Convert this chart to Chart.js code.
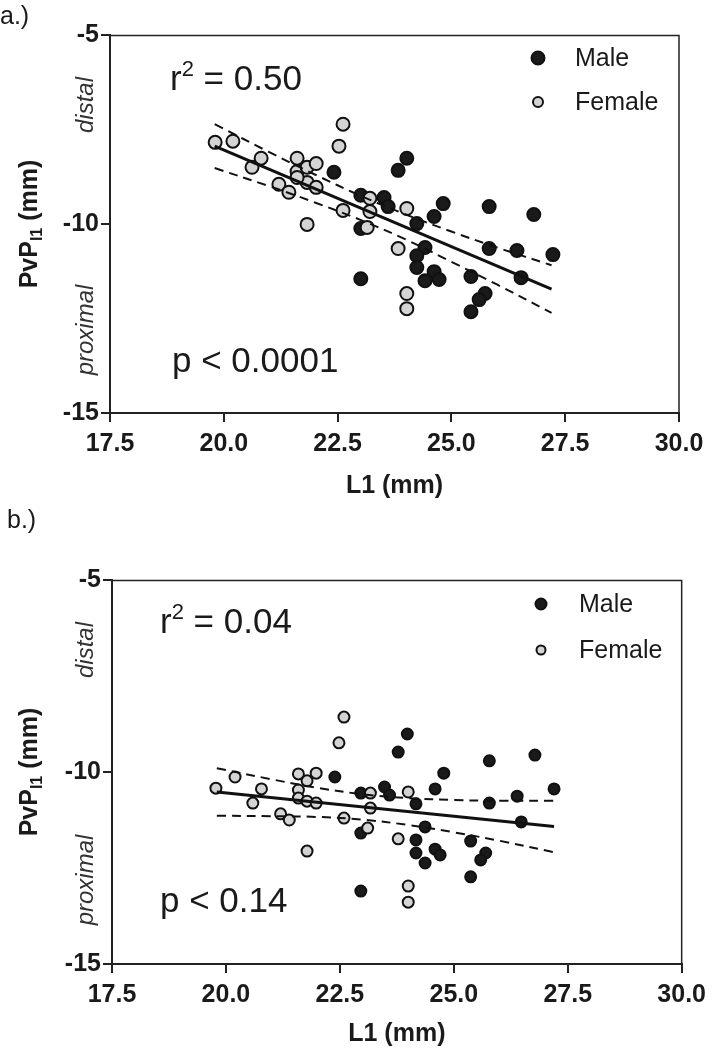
<!DOCTYPE html>
<html><head><meta charset="utf-8">
<script src="https://cdn.jsdelivr.net/npm/chart.js@4.4.1/dist/chart.umd.min.js"></script>
<style>
html,body{margin:0;padding:0;background:#fff;}
.wrap{position:absolute;left:0;width:713px;}
#w1{top:0;height:520px}#w2{top:495px;height:555px}
canvas{display:block}
</style></head><body>
<div class="wrap" id="w1"><canvas id="c1" width="713" height="520"></canvas></div>
<div class="wrap" id="w2"><canvas id="c2" width="713" height="555"></canvas></div>
<script>
// ---------- data ----------
const xTicks = [17.5, 20.0, 22.5, 25.0, 27.5, 30.0];
const yTicks = [-15, -10, -5];

// panel a
const femaleX_a = [19.81,20.20,20.62,20.82,21.21,21.43,21.61,21.61,21.83,22.03,21.83,22.03,21.61,21.83,22.62,22.53,22.62,23.21,23.21,23.15,24.02,23.83,24.02,24.02];
const femaleY_a = [-7.84,-7.81,-8.50,-8.26,-8.95,-9.16,-8.26,-8.61,-8.50,-8.40,-8.90,-9.03,-8.77,-10.01,-7.36,-7.94,-9.64,-9.32,-9.67,-10.09,-9.59,-10.65,-11.84,-12.24];
const maleX_a = [22.42,23.01,23.01,23.01,23.52,23.61,24.02,23.83,24.82,24.62,24.24,25.83,26.81,24.42,24.24,24.24,24.62,24.42,24.73,25.83,26.44,27.23,25.43,26.53,25.74,25.61,25.43];
const maleY_a = [-8.63,-9.24,-10.12,-11.45,-9.30,-9.54,-8.26,-8.58,-9.46,-9.80,-9.99,-9.54,-9.75,-10.62,-10.84,-11.15,-11.26,-11.50,-11.47,-10.65,-10.70,-10.81,-11.39,-11.42,-11.84,-12.00,-12.32];
const fitX_a = [19.8, 27.2];
const fitY_a = [-7.94, -11.72];
const bandX_a = [19.8, 21, 22, 23, 24, 25, 26, 27.2];
const upperY_a = [-7.36,-8.10,-8.69,-9.25,-9.75,-10.20,-10.62,-11.09];
const lowerY_a = [-8.52,-9.00,-9.43,-9.89,-10.41,-11.00,-11.60,-12.35];

// panel b
const femaleX_b = [19.78,20.20,20.78,20.59,21.20,21.39,21.59,21.78,21.98,21.59,21.59,21.78,21.98,21.78,22.59,22.48,22.59,23.17,23.17,23.11,24.00,23.78,24.00,24.00];
const femaleY_b = [-10.42,-10.13,-10.44,-10.81,-11.09,-11.25,-10.05,-10.23,-10.03,-10.47,-10.68,-10.76,-10.81,-12.06,-8.57,-9.24,-11.20,-10.55,-10.94,-11.46,-10.52,-11.74,-12.97,-13.39];
const maleX_b = [22.39,22.96,22.96,22.96,23.48,23.59,23.98,23.78,24.78,24.59,24.17,25.78,26.78,24.37,24.17,24.17,24.59,24.70,24.37,25.78,26.39,27.20,25.37,26.48,25.70,25.59,25.37];
const maleY_b = [-10.13,-10.55,-11.59,-13.10,-10.39,-10.60,-9.01,-9.48,-10.03,-10.44,-10.83,-9.71,-9.56,-11.43,-11.77,-12.11,-12.01,-12.16,-12.37,-10.81,-10.63,-10.44,-11.80,-11.30,-12.11,-12.29,-12.73];
const fitX_b = [19.8, 27.2];
const fitY_b = [-10.52, -11.42];
const bandX_b = [19.8, 21, 22, 23, 24, 25, 26, 27.2];
const upperY_b = [-9.90,-10.19,-10.41,-10.58,-10.68,-10.73,-10.75,-10.75];
const lowerY_b = [-11.14,-11.15,-11.17,-11.24,-11.38,-11.57,-11.79,-12.09];

const seriesNames = ['Male', 'Female'];
const panelLabels = ['a.)', 'b.)'];
const r2Texts = ['0.50', '0.04'];
const pTexts = ['p < 0.0001', 'p < 0.14'];
const xTitle = 'L1 (mm)';

// ---------- helpers ----------
const FONT = "'Liberation Sans', Arial, Helvetica, sans-serif";
const INK = '#1a1a1a';
const zip = (xs, ys) => xs.map((x, i) => ({x, y: ys[i]}));

function makeChart(id, d, L) {
  const annot = {
    id: 'annot',
    afterDraw(chart) {
      const ctx = chart.ctx, a = chart.chartArea;
      ctx.save();
      // top & right frame
      ctx.strokeStyle = '#222'; ctx.lineWidth = 1.5;
      ctx.beginPath();
      ctx.moveTo(a.left, a.top + 0.5); ctx.lineTo(a.right, a.top + 0.5); ctx.lineTo(a.right, a.bottom);
      ctx.stroke();
      ctx.fillStyle = INK;
      // panel label
      ctx.font = '25px ' + FONT; ctx.textBaseline = 'alphabetic'; ctx.textAlign = 'left';
      ctx.fillText(d.panel, L.panelX, L.panelY);
      // r^2
      ctx.font = '35px ' + FONT;
      let x = L.rX;
      ctx.fillText('r', x, a.top + L.rDy); x += ctx.measureText('r').width;
      ctx.font = '22px ' + FONT;
      ctx.fillText('2', x, a.top + L.rDy - 14); x += ctx.measureText('2').width;
      ctx.font = '35px ' + FONT;
      ctx.fillText(' = ' + d.r2, x, a.top + L.rDy);
      // p
      ctx.fillText(d.p, L.pX, a.top + L.pDy);
      // legend
      const lg = [[seriesNames[0], INK, L.rM], [seriesNames[1], '#d4d4d4', L.rF]];
      lg.forEach((it, i) => {
        const cy = L.legY + i * L.legGap;
        ctx.beginPath(); ctx.arc(L.legMX, cy, it[2], 0, Math.PI * 2);
        ctx.fillStyle = it[1]; ctx.fill();
        ctx.lineWidth = 2; ctx.strokeStyle = '#111'; ctx.stroke();
        ctx.fillStyle = INK; ctx.font = '25px ' + FONT; ctx.textBaseline = 'middle';
        ctx.fillText(it[0], L.legTX, cy + 1);
      });
      // y title with subscript (rotated)
      const cy = (a.top + a.bottom) / 2;
      ctx.save();
      ctx.translate(L.yTitleX, cy); ctx.rotate(-Math.PI / 2);
      ctx.textBaseline = 'alphabetic'; ctx.textAlign = 'left';
      const f1 = 'bold 25px ' + FONT, f2 = 'bold 16px ' + FONT;
      ctx.font = f1; const w1 = ctx.measureText('PvP').width;
      ctx.font = f2; const w2 = ctx.measureText('I1').width;
      ctx.font = f1; const w3 = ctx.measureText(' (mm)').width;
      let sx = -(w1 + w2 + w3) / 2;
      ctx.fillStyle = INK;
      ctx.font = f1; ctx.fillText('PvP', sx, 0); sx += w1;
      ctx.font = f2; ctx.fillText('I1', sx, 5); sx += w2;
      ctx.font = f1; ctx.fillText(' (mm)', sx, 0);
      // distal / proximal
      ctx.font = 'italic 24px ' + FONT; ctx.textAlign = 'center'; ctx.fillStyle = '#333';
      ctx.fillText('distal', cy - (a.top + L.distalDy), L.dpX - L.yTitleX);
      ctx.fillText('proximal', cy - (a.top + L.proxDy), L.dpX - L.yTitleX);
      ctx.restore();
      // x title
      ctx.font = 'bold 25px ' + FONT; ctx.textAlign = 'center'; ctx.textBaseline = 'middle'; ctx.fillStyle = INK;
      ctx.fillText(xTitle, (a.left + a.right) / 2, a.bottom + L.xTitleDy);
      ctx.restore();
    }
  };

  const lineDs = (xs, ys, dash, w) => ({
    data: zip(xs, ys), showLine: true, pointRadius: 0, borderColor: '#111',
    borderWidth: w, borderDash: dash, tension: 0.35, fill: false, order: 0
  });

  return new Chart(document.getElementById(id), {
    type: 'scatter',
    data: {
      datasets: [
        lineDs(d.fitX, d.fitY, [], 3),
        lineDs(d.bandX, d.upY, [9, 6], 2),
        lineDs(d.bandX, d.loY, [9, 6], 2),
        {label: seriesNames[1], data: zip(d.fX, d.fY), backgroundColor: '#d4d4d4', borderColor: '#111', borderWidth: 2, pointRadius: L.pr, order: 1},
        {label: seriesNames[0], data: zip(d.mX, d.mY), backgroundColor: INK, borderColor: '#111', borderWidth: 2, pointRadius: L.pr, order: 2}
      ]
    },
    options: {
      responsive: false, animation: false, devicePixelRatio: 1,
      layout: {padding: {left: 0, right: L.padR, top: L.padT, bottom: 0}},
      plugins: {legend: {display: false}, tooltip: {enabled: false}},
      scales: {
        x: {
          type: 'linear', min: 17.5, max: 30,
          afterBuildTicks: s => { s.ticks = xTicks.map(v => ({value: v})); },
          afterFit: s => { s.height = L.xH; },
          ticks: {callback: v => v.toFixed(1), font: {family: FONT, size: 25, weight: 'bold'}, color: INK, padding: 7, maxRotation: 0, autoSkip: false},
          grid: {drawOnChartArea: false, drawTicks: true, tickLength: 9, color: '#222', lineWidth: 2},
          border: {display: true, color: '#222', width: 2}
        },
        y: {
          type: 'linear', min: -15, max: -5,
          afterBuildTicks: s => { s.ticks = yTicks.map(v => ({value: v})); },
          afterFit: s => { s.width = L.yW; },
          ticks: {font: {family: FONT, size: 25, weight: 'bold'}, color: INK, padding: 2},
          grid: {drawOnChartArea: false, drawTicks: true, tickLength: 9, color: '#222', lineWidth: 2},
          border: {display: true, color: '#222', width: 2}
        }
      }
    },
    plugins: [annot]
  });
}

makeChart('c1', {
  panel: panelLabels[0], r2: r2Texts[0], p: pTexts[0],
  fX: femaleX_a, fY: femaleY_a, mX: maleX_a, mY: maleY_a,
  fitX: fitX_a, fitY: fitY_a, bandX: bandX_a, upY: upperY_a, loY: lowerY_a
}, {
  padR: 34, padT: 35, xH: 520 - 413, yW: 110, pr: 6.5,
  panelX: 0, panelY: 24, rX: 170, rDy: 55, pX: 172, pDy: 337,
  legMX: 538, legTX: 575, legY: 58, legGap: 44, rM: 6.5, rF: 5,
  yTitleX: 37, dpX: 93, distalDy: 70, proxDy: 295, xTitleDy: 73
});

makeChart('c2', {
  panel: panelLabels[1], r2: r2Texts[1], p: pTexts[1],
  fX: femaleX_b, fY: femaleY_b, mX: maleX_b, mY: maleY_b,
  fitX: fitX_b, fitY: fitY_b, bandX: bandX_b, upY: upperY_b, loY: lowerY_b
}, {
  padR: 26, padT: 85, xH: 555 - 469, yW: 112, pr: 5.5,
  panelX: 7, panelY: 33, rX: 160, rDy: 53, pX: 160, pDy: 332,
  legMX: 541, legTX: 579, legY: 109, legGap: 46, rM: 5.5, rF: 4.5,
  yTitleX: 37, dpX: 93, distalDy: 70, proxDy: 300, xTitleDy: 70
});
</script>
</body></html>
